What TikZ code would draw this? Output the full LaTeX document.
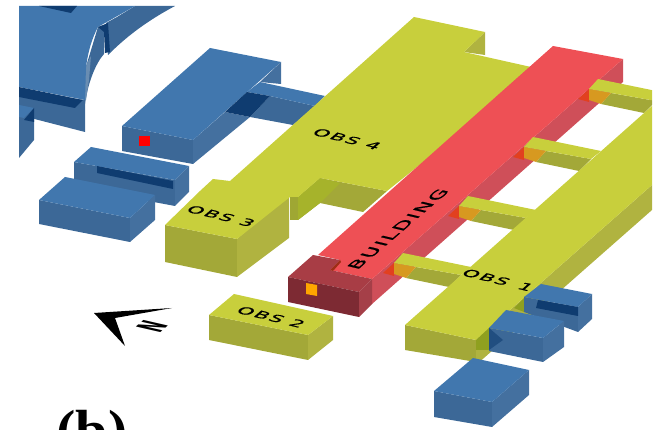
\documentclass[tikz,border=0pt]{standalone}
\usepackage{fontspec}
\newfontfamily\labelfont[LetterSpace=10,FakeBold=0.7]{DejaVu Sans}
\newfontfamily\northfont{DejaVu Sans}
\newfontfamily\capfont{Liberation Serif}
\definecolor{bluetop}{HTML}{4177AE}
\definecolor{bluefront}{HTML}{3C6897}
\definecolor{blueside}{HTML}{44709F}
\definecolor{bluedark}{HTML}{0F3C70}
\definecolor{yeltop}{HTML}{C8CF3C}
\definecolor{yelfront}{HTML}{A3A838}
\definecolor{yelside}{HTML}{B0B340}
\definecolor{yelshade}{HTML}{8FA01F}
\definecolor{redtop}{HTML}{EE5055}
\definecolor{redside}{HTML}{CF4F59}
\definecolor{redshade}{HTML}{E2401F}
\definecolor{darktop}{HTML}{A83D45}
\definecolor{darkfront}{HTML}{7D2A33}
\definecolor{darkside}{HTML}{A53F48}
\tikzset{
	obslabel/.style={font=\labelfont\fontsize{10}{10}\selectfont, inner sep=0pt, cm={1.94,-.47,.98,.86,(0,0)}},
	buildlabel/.style={font=\labelfont\fontsize{10}{10}\selectfont, inner sep=0pt, cm={1.67,1.43,-1.55,.37,(0,0)}}
}
\begin{document}
\begin{tikzpicture}[x=1pt, y=-1pt, line join=round, line cap=round]
	\useasboundingbox (0,0) rectangle (662,430);
	\clip (0,0) rectangle (662,430);
	\begin{scope}
		\clip (19,6) rectangle (652,430);
		% big block, top left
		\fill[bluefront] (135,6) -- (175,6) .. controls (145,22) and (125,38) .. (108,55) -- (106,23) -- (117,17) -- cycle;
		\fill[bluefront] (19,95) -- (85,100) -- (85,132) -- (19,115) -- cycle;
		\fill[bluefront] (98,27) -- (104,30) -- (104,54) .. controls (96,63) and (88,82) .. (85,104) -- (85,70) -- cycle;
		\fill[blueside!80!white] (85,68) -- (91,56) -- (89,80) -- (86,100) -- (85,100) -- cycle;
		\fill[bluetop] (19,6) -- (135,6) -- (98,27) .. controls (92,38) and (88,52) .. (86,67) -- (85,100) -- (19,87) -- cycle;
		\fill[bluedark] (39,6) -- (77,6) -- (71,13) -- cycle;
		\fill[bluedark] (19,87) -- (83,100) -- (75,108) -- (19,97) -- cycle;
		\fill[bluedark] (98,27) -- (108,23) -- (110,52) -- (105,53) -- (104,32) -- cycle;
		\fill[bluefront] (19,105) -- (34,108) -- (34,140) -- (19,158) -- cycle;
		\fill[bluetop] (19,105) -- (34,108) -- (24,118) -- (19,117) -- cycle;
		\fill[bluedark] (34,108) -- (34,122) -- (24,120) -- cycle;
		% block with red mark and its corridor
		\fill[bluefront] (122,126) -- (193,140) -- (193,164) -- (122,151) -- cycle;
		\fill[blueside] (193,140) -- (225,112) -- (250,117) -- (193,164) -- cycle;
		\fill[blueside] (260,82) -- (281,62) -- (281,84) -- cycle;
		\fill[bluefront] (270,96) -- (315,106) -- (293,125) -- (250,117) -- cycle;
		\fill[bluetop] (210,48) -- (281,62) -- (193,140) -- (122,126) -- cycle;
		\fill[bluetop] (260,82) -- (325,96) -- (315,106) -- (270,96) -- (247,92) -- cycle;
		\fill[bluedark] (247,92) -- (270,96) -- (250,117) -- (225,112) -- cycle;
		\fill[red] (139,136) rectangle (150,146);
		% block with the slit
		\fill[bluefront] (74,162) -- (175,180) -- (175,206) -- (74,187) -- cycle;
		\fill[blueside] (175,180) -- (189,166) -- (189,192) -- (175,206) -- cycle;
		\fill[bluetop] (91,147) -- (189,166) -- (175,180) -- (74,162) -- cycle;
		\fill[bluedark] (97,166) -- (173,181) -- (173,189) -- (97,173) -- cycle;
		% block next to it
		\fill[bluefront] (39,200) -- (130,218) -- (130,242) -- (39,224) -- cycle;
		\fill[blueside] (130,218) -- (155,195) -- (155,220) -- (130,242) -- cycle;
		\fill[bluetop] (65,177) -- (155,195) -- (130,218) -- (39,200) -- cycle;
		% obs 3 and obs 4
		\fill[yelfront] (165,225) -- (237,239) -- (237,277) -- (165,262) -- cycle;
		\fill[yelside] (237,239) -- (289,194) -- (289,238) -- (237,277) -- cycle;
		\fill[yelfront!80!yelshade] (290,195) -- (298,195) -- (298,220) -- (290,220) -- cycle;
		\fill[yelfront] (298,197) -- (320,178) -- (387,191) -- (363,212) -- (320,203) -- (298,220) -- cycle;
		\fill[yelshade!60!yeltop] (298,197) -- (320,178) -- (340,183) -- (320,203) -- (298,220) -- cycle;
		\fill[yelside] (464,52) -- (485,32) -- (485,55) -- cycle;
		\fill[yeltop] (414,17) -- (485,32) -- (464,52) -- (540,69) -- (387,191) -- (320,178) -- (298,197) -- (290,197) -- (237,239) -- (165,225) -- (200,191) -- (213,179) -- (230,181) -- cycle;
		% building
		\fill[redside] (623,59) -- (623,82) -- (372,304) -- (372,279) -- cycle;
		\fill[redtop] (553,46) -- (623,59) -- (372,279) -- (330,270) -- (340,260) -- (318,255) -- cycle;
		\fill[darktop] (288,277) -- (313,255) -- (340,260) -- (330,270) -- (372,279) -- (359,292) -- cycle;
		\fill[redshade!70!black] (330,270) -- (340,260) -- (341,262) -- (333,271) -- cycle;
		\fill[darkfront] (288,277) -- (359,292) -- (359,317) -- (288,302) -- cycle;
		\fill[darkside] (359,292) -- (372,279) -- (372,304) -- (359,317) -- cycle;
		\fill[orange!70!yellow] (306,283) -- (317,285) -- (317,296) -- (306,294) -- cycle;
		% walkways
		\foreach \dx/\dy in {65/-58,0/0,-65/59,-130/116}{
			\begin{scope}[shift={(\dx,\dy)}]
				\fill[redshade] (513,157) -- (524,147) -- (524,160) -- cycle;
				\fill[yelfront] (546,151) -- (591,159) -- (579,171) -- (536,162) -- cycle;
				\fill[orange!50!yelside] (524,147) -- (546,151) -- (536,162) -- (524,158) -- cycle;
				\fill[yeltop] (533,137) -- (601,151) -- (591,159) -- (524,147) -- cycle;
			\end{scope}
		}
		% obs 1
		\fill[yelfront] (405,325) -- (476,340) -- (476,362) -- (405,350) -- cycle;
		\fill[yelside] (476,340) -- (652,185) -- (652,210) -- (476,365) -- cycle;
		\fill[yeltop] (405,325) -- (476,340) -- (652,185) -- (652,106) -- cycle;
		\fill[yelshade] (476,340) -- (489,328) -- (489,350) -- (476,350) -- cycle;
		\fill[yelshade] (514,308) -- (524,298) -- (524,312) -- cycle;
		% blue blocks, lower right
		\fill[bluefront] (524,297) -- (578,307) -- (578,332) -- (524,312) -- cycle;
		\fill[blueside] (578,307) -- (592,294) -- (592,319) -- (578,332) -- cycle;
		\fill[bluetop] (541,284) -- (592,294) -- (578,307) -- (524,297) -- cycle;
		\fill[bluedark] (538,300) -- (578,307) -- (578,316) -- (536,308) -- cycle;
		\fill[bluefront] (489,328) -- (543,338) -- (543,362) -- (489,351) -- cycle;
		\fill[blueside] (543,338) -- (564,321) -- (564,347) -- (543,362) -- cycle;
		\fill[bluetop] (506,310) -- (564,321) -- (543,338) -- (489,328) -- cycle;
		\fill[bluedark!60!bluefront] (489,328) -- (503,340) -- (489,350) -- cycle;
		\fill[bluefront] (434,391) -- (492,402) -- (492,427) -- (434,417) -- cycle;
		\fill[blueside] (492,402) -- (529,370) -- (529,395) -- (492,427) -- cycle;
		\fill[bluetop] (473,358) -- (529,370) -- (492,402) -- (434,391) -- cycle;
		% obs 2
		\fill[yelfront] (209,315) -- (308,335) -- (308,360) -- (209,340) -- cycle;
		\fill[yelside] (308,335) -- (333,316) -- (333,340) -- (308,360) -- cycle;
		\fill[yeltop] (234,294) -- (333,316) -- (308,335) -- (209,315) -- cycle;
	\end{scope}
	% labels
	\node[obslabel] (obs4) at (347,139) {OBS 4};
	\node[obslabel] (obs3) at (221,216) {OBS 3};
	\node[obslabel] (obs2) at (271,317) {OBS 2};
	\node[obslabel] (obs1) at (498,280) {OBS\ \,1};
	\node[buildlabel] (build) at (398,229) {BUILDING};
	% north arrow
	\fill (94,313) -- (172,308) -- (115,318) -- (125,346) -- cycle;
	\node[font=\northfont\bfseries\fontsize{16}{16}\selectfont, inner sep=0pt, cm={.72,.63,-2.1,.48,(0,0)}] (north) at (152,326) {N};
	\node[font=\capfont\bfseries\fontsize{58}{58}\selectfont, anchor=base, inner sep=0pt] (tag) at (92,450) {(b)};
\end{tikzpicture}
\end{document}
